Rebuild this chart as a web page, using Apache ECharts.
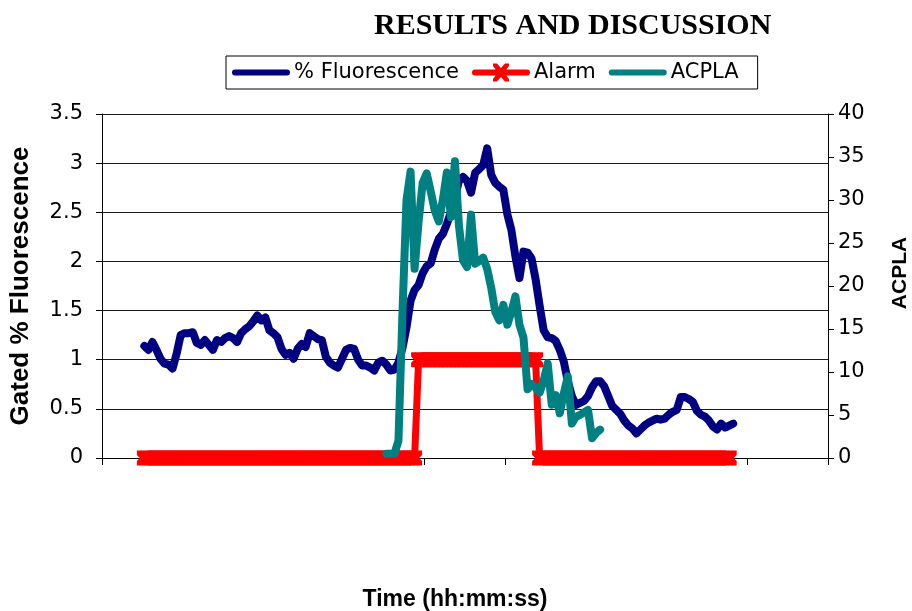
<!DOCTYPE html>
<html>
<head>
<meta charset="utf-8">
<title>Results and discussion</title>
<script src="https://cdn.jsdelivr.net/npm/echarts@6.0.0/dist/echarts.min.js"></script>
<style>
  html, body { margin: 0; padding: 0; background: #fff; }
  #chart { width: 912px; height: 611px; }
</style>
</head>
<body>
<div id="chart"></div>
<script>
// samples along the time axis (labels are not printed on the original)
var sampleCount = 180;
var tickEvery = 20;

// % Fluorescence, samples 10..156
var fluorStart = 10;
var fluorescence = [
  1.14,1.10,1.18,1.10,1.01,0.96,0.95,0.91,1.06,1.25,
  1.27,1.27,1.28,1.17,1.15,1.20,1.15,1.10,1.20,1.18,
  1.22,1.24,1.22,1.18,1.27,1.31,1.34,1.39,1.45,1.40,
  1.43,1.30,1.27,1.23,1.11,1.05,1.07,1.01,1.11,1.16,
  1.13,1.27,1.24,1.21,1.20,1.03,0.97,0.94,0.92,1.01,
  1.10,1.12,1.11,1.00,0.94,0.94,0.92,0.89,0.97,0.99,
  0.95,0.89,0.90,0.97,1.12,1.33,1.60,1.71,1.76,1.88,
  1.95,1.98,2.12,2.23,2.28,2.38,2.50,2.65,2.82,2.86,
  2.82,2.70,2.90,2.94,2.98,3.15,2.88,2.80,2.76,2.73,
  2.48,2.32,2.05,1.83,2.10,2.09,2.03,1.82,1.55,1.30,
  1.23,1.22,1.19,1.10,0.98,0.78,0.63,0.54,0.56,0.58,
  0.63,0.72,0.78,0.78,0.73,0.63,0.53,0.49,0.45,0.38,
  0.33,0.30,0.25,0.29,0.33,0.36,0.38,0.40,0.39,0.40,
  0.44,0.47,0.49,0.62,0.62,0.60,0.57,0.48,0.44,0.42,
  0.38,0.32,0.29,0.35,0.31,0.33,0.35
];

// Alarm (0 / 1), samples 10..155
var alarmStart = 10;
var alarm = [
  0,0,0,0,0,0,0,0,0,0, 0,0,0,0,0,0,0,0,0,0,
  0,0,0,0,0,0,0,0,0,0, 0,0,0,0,0,0,0,0,0,0,
  0,0,0,0,0,0,0,0,0,0, 0,0,0,0,0,0,0,0,0,0,
  0,0,0,0,0,0,0,0,
  1,1,1,1,1,1,1,1,1,1, 1,1,1,1,1,1,1,1,1,1,
  1,1,1,1,1,1,1,1,1,1,
  0,0,0,0,0,0,0,0,0,0, 0,0,0,0,0,0,0,0,0,0,
  0,0,0,0,0,0,0,0,0,0, 0,0,0,0,0,0,0,0,0,0,
  0,0,0,0,0,0,0,0
];

// ACPLA, samples 70..123
var acplaStart = 70;
var acpla = [
  0.5,0.5,0.5,2.0,17,30,33.3,22,27.5,32,
  33.1,31,28.8,27.5,30,33.2,28,34.5,27,23,
  22.2,28.3,22.6,22.9,23.3,22,19.8,17,16,17.8,
  15.5,17,18.8,15.5,14,8,8.6,8.2,7.6,9,
  11,6.2,7.3,5.2,7.5,9.5,4.0,4.8,5.0,5.3,
  5.6,2.3,2.9,3.3
];

var leftTicks = { min: 0, max: 3.5, step: 0.5 };
var rightTicks = { min: 0, max: 40, step: 5 };

function place(values, start) {
  var out = [];
  for (var i = 0; i < sampleCount; i++) {
    var k = i - start;
    out.push(k >= 0 && k < values.length ? values[k] : null);
  }
  return out;
}

var samples = [];
for (var i = 0; i < sampleCount; i++) samples.push(String(i + 1));

var crossPath = 'path://M0,0 L3,0 L5,2 L7,0 L10,0 L10,3 L8,5 L10,7 L10,10 L7,10 L5,8 L3,10 L0,10 L0,7 L2,5 L0,3 Z';
// legend keys: a thick bar, and the bar with the cross on it
var barIcon = 'path://M3,6 L55,6 A3,3 0 0 1 55,12 L3,12 A3,3 0 0 1 3,6 Z';
var barCrossIcon = 'path://M3,6 L55,6 A3,3 0 0 1 55,12 L3,12 A3,3 0 0 1 3,6 Z ' +
  'M21,0 L25,0 L29,4.5 L33,0 L37,0 L37,2.5 L32,9 L37,15.5 L37,18 L33,18 L29,13.5 L25,18 L21,18 L21,15.5 L26,9 L21,2.5 Z';
var sansFont = 'DejaVu Sans';

var option = {
  animation: false,
  backgroundColor: '#fff',
  title: {
    text: 'RESULTS AND DISCUSSION',
    left: 369,
    top: 6,
    textStyle: { fontFamily: 'Liberation Serif', fontWeight: 'bold', fontSize: 30, color: '#000' }
  },
  legend: {
    left: 226,
    top: 56,
    padding: [6, 19, 6, 6],
    itemGap: 13,
    itemWidth: 58,
    itemHeight: 18,
    borderColor: '#000',
    borderWidth: 1,
    textStyle: { fontFamily: sansFont, fontSize: 21, color: '#000', padding: [0, 0, 0, -1] },
    data: [
      { name: '% Fluorescence', icon: barIcon },
      { name: 'Alarm', icon: barCrossIcon },
      { name: 'ACPLA', icon: barIcon }
    ]
  },
  grid: { left: 102, right: 84, top: 114, bottom: 153, containLabel: false, outerBoundsMode: 'none' },
  xAxis: {
    type: 'category',
    data: samples,
    boundaryGap: true,
    axisLine: { lineStyle: { color: '#000', width: 1 } },
    axisTick: { show: true, interval: tickEvery - 1, length: 7, lineStyle: { color: '#000' } },
    axisLabel: { show: false },
    splitLine: { show: false },
    name: 'Time (hh:mm:ss)',
    nameLocation: 'middle',
    nameGap: 130,
    nameTextStyle: { fontFamily: 'Liberation Sans', fontWeight: 'bold', fontSize: 23, color: '#000', padding: [0, 20, 0, 0] }
  },
  yAxis: [
    {
      type: 'value',
      position: 'left',
      min: leftTicks.min,
      max: leftTicks.max,
      interval: leftTicks.step,
      axisLine: { show: true, lineStyle: { color: '#000', width: 1 } },
      axisTick: { show: true, length: 6, lineStyle: { color: '#000' } },
      axisLabel: { fontFamily: sansFont, fontSize: 21, color: '#000', margin: 19 },
      splitLine: { show: true, lineStyle: { color: '#1a1a1a', width: 1 } },
      name: 'Gated % Fluorescence',
      nameLocation: 'middle',
      nameRotate: 90,
      nameGap: 68,
      nameTextStyle: { fontFamily: 'Liberation Sans', fontWeight: 'bold', fontSize: 26, color: '#000' }
    },
    {
      type: 'value',
      position: 'right',
      min: rightTicks.min,
      max: rightTicks.max,
      interval: rightTicks.step,
      axisLine: { show: true, lineStyle: { color: '#000', width: 1 } },
      axisTick: { show: true, length: 6, lineStyle: { color: '#000' } },
      axisLabel: { fontFamily: sansFont, fontSize: 21, color: '#000', margin: 10 },
      splitLine: { show: false },
      name: 'ACPLA',
      nameLocation: 'middle',
      nameRotate: 90,
      nameGap: 62,
      nameTextStyle: { fontFamily: 'Liberation Sans', fontWeight: 'bold', fontSize: 21, color: '#000', padding: [0, 0, 0, 26] }
    }
  ],
  series: [
    {
      name: '% Fluorescence',
      type: 'line',
      yAxisIndex: 0,
      data: place(fluorescence, fluorStart),
      symbol: 'none',
      lineStyle: { color: '#000080', width: 8, cap: 'round', join: 'round' },
      itemStyle: { color: '#000080' },
      z: 2
    },
    {
      name: 'Alarm',
      type: 'line',
      yAxisIndex: 0,
      data: place(alarm, alarmStart),
      symbol: crossPath,
      symbolSize: 15,
      showAllSymbol: true,
      lineStyle: { color: '#ff0000', width: 7, join: 'miter' },
      itemStyle: { color: '#ff0000' },
      z: 3
    },
    {
      name: 'ACPLA',
      type: 'line',
      yAxisIndex: 1,
      data: place(acpla, acplaStart),
      symbol: 'none',
      lineStyle: { color: '#008080', width: 8, cap: 'round', join: 'round' },
      itemStyle: { color: '#008080' },
      z: 4
    }
  ]
};

var myChart = echarts.init(document.getElementById('chart'), null, { renderer: 'canvas' });
myChart.setOption(option);
</script>
</body>
</html>
